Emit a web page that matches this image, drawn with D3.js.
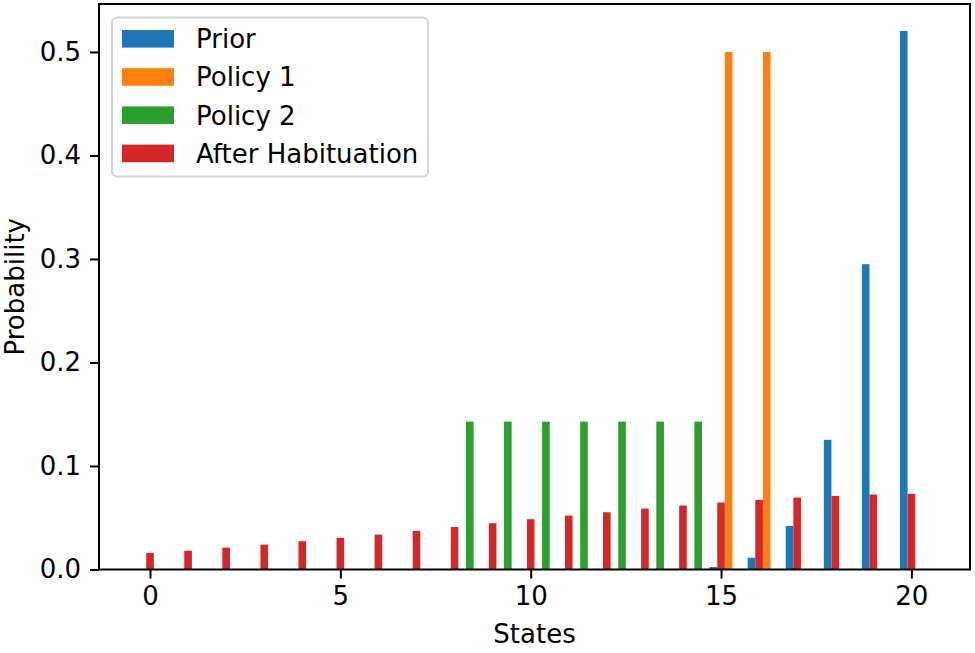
<!DOCTYPE html>
<html>
<head>
<meta charset="utf-8">
<script src="https://cdn.jsdelivr.net/npm/d3@7"></script>
<style>
  html, body { margin: 0; padding: 0; background: #fff; }
  svg { display: block; font-family: "DejaVu Sans", sans-serif; }
</style>
</head>
<body>
<div id="viz"></div>
<script>
// data
var states = [0,1,2,3,4,5,6,7,8,9,10,11,12,13,14,15,16,17,18,19,20];
var prior = [0,0,0,0,0,0,0,0,0,0,0,0,0,0,0,0.0024,0.0114,0.0421,0.1253,0.295,0.5203];
var policy1 = [0,0,0,0,0,0,0,0,0,0,0,0,0,0,0,0.5,0.5,0,0,0,0];
var policy2 = [0,0,0,0,0,0,0,0,0.1429,0.1429,0.1429,0.1429,0.1429,0.1429,0.1429,0,0,0,0,0,0];
var afterHab = [0.016,0.0182,0.0211,0.024,0.0273,0.0305,0.0337,0.0373,0.0411,0.0447,0.0486,
  0.0521,0.0553,0.0589,0.0618,0.0647,0.0673,0.0695,0.0711,0.0724,0.0731];
var seriesNames = ['Prior', 'Policy 1', 'Policy 2', 'After Habituation'];
var xTicks = [0, 5, 10, 15, 20];
var yTicks = [0, 0.1, 0.2, 0.3, 0.4, 0.5];

// series drawing setup (offsets in state units)
var series = [
  {name: seriesNames[0], values: prior,    offset: -0.2, color: '#1f77b4'},
  {name: seriesNames[1], values: policy1,  offset: 0.2,  color: '#ff7f0e'},
  {name: seriesNames[2], values: policy2,  offset: 0.4,  color: '#2ca02c'},
  {name: seriesNames[3], values: afterHab, offset: 0,    color: '#d62728'}
];
var barW = 0.2;

var W = 975, H = 653;
// plot box (note: "top" is a reserved window prop, so use plot* names)
var plotL = 99, plotR = 970, plotT = 4, plotB = 569.5;
var fs = 26;

var svg = d3.select('#viz').append('svg')
  .attr('width', W)
  .attr('height', H);

// matplotlib style 5% margins around the bar extents
var xMin = d3.min(series, function (s) { return s.offset; }) - barW / 2;
var xMax = d3.max(states) + d3.max(series, function (s) { return s.offset; }) + barW / 2;
var xPad = (xMax - xMin) * 0.05;
var x = d3.scaleLinear().domain([xMin - xPad, xMax + xPad]).range([plotL, plotR]);
var yMax = d3.max(series, function (s) { return d3.max(s.values); }) * 1.05;
var y = d3.scaleLinear().domain([0, yMax]).range([plotB, plotT]);

// bars
series.forEach(function (s) {
  svg.append('g')
    .selectAll('rect')
    .data(states.filter(function (d, i) { return s.values[i] > 0; }))
    .enter()
    .append('rect')
    .attr('x', function (d) { return x(d + s.offset - barW / 2); })
    .attr('width', function () { return x(barW) - x(0); })
    .attr('y', function (d) { return y(s.values[d]); })
    .attr('height', function (d) { return y(0) - y(s.values[d]); })
    .attr('fill', s.color);
});

// axes
var xAxis = svg.append('g')
  .attr('transform', 'translate(0,' + plotB + ')')
  .call(d3.axisBottom(x).tickValues(xTicks).tickFormat(d3.format('d')).tickSize(9).tickPadding(8));
var yAxis = svg.append('g')
  .attr('transform', 'translate(' + plotL + ',0)')
  .call(d3.axisLeft(y).tickValues(yTicks).tickFormat(d3.format('.1f')).tickSize(9).tickPadding(9));

[xAxis, yAxis].forEach(function (a) {
  a.select('.domain').remove();
  a.selectAll('line').attr('stroke', '#000').attr('stroke-width', 2);
  a.selectAll('text')
    .attr('fill', '#000')
    .style('font-family', '"DejaVu Sans", sans-serif')
    .style('font-size', fs + 'px');
});
xAxis.selectAll('text').attr('dy', '0.72em');

// frame
svg.append('rect')
  .attr('x', plotL).attr('y', plotT)
  .attr('width', plotR - plotL).attr('height', plotB - plotT)
  .attr('fill', 'none').attr('stroke', '#000').attr('stroke-width', 2);

// axis labels
svg.append('text')
  .attr('x', (plotL + plotR) / 2).attr('y', 643)
  .attr('text-anchor', 'middle')
  .style('font-size', fs + 'px')
  .text('States');

svg.append('text')
  .attr('transform', 'translate(24,' + ((plotT + plotB) / 2) + ') rotate(-90)')
  .attr('text-anchor', 'middle')
  .style('font-size', fs + 'px')
  .text('Probability');

// legend
var leg = svg.append('g').attr('transform', 'translate(112,17.5)');
leg.append('rect')
  .attr('width', 316).attr('height', 159)
  .attr('rx', 5).attr('ry', 5)
  .attr('fill', '#fff').attr('fill-opacity', 0.8)
  .attr('stroke', '#d4d4d4').attr('stroke-width', 2);

var rowH = 38.2;
var items = leg.selectAll('.item')
  .data(series)
  .enter()
  .append('g')
  .attr('class', 'item')
  .attr('transform', function (d, i) { return 'translate(0,' + (21.3 + i * rowH) + ')'; });

items.append('rect')
  .attr('x', 10).attr('y', -8.8)
  .attr('width', 52).attr('height', 17.6)
  .attr('fill', function (d) { return d.color; });

items.append('text')
  .attr('x', 84).attr('y', 9.3)
  .style('font-size', fs + 'px')
  .text(function (d) { return d.name; });
</script>
</body>
</html>
